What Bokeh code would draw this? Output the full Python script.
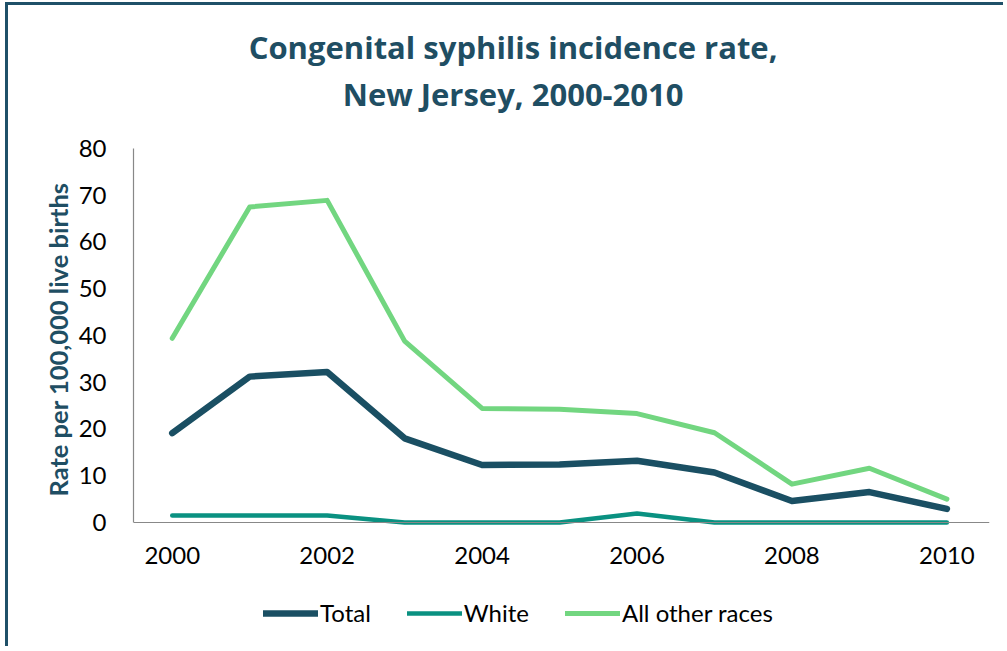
from bokeh.plotting import figure
from bokeh.models import Label, Legend, LegendItem, FixedTicker, Range1d
from bokeh.embed import file_html
from bokeh.resources import INLINE

# ---- data ----
years = [2000, 2001, 2002, 2003, 2004, 2005, 2006, 2007, 2008, 2009, 2010]
total = [19.1, 31.2, 32.2, 18.0, 12.3, 12.4, 13.2, 10.7, 4.6, 6.5, 2.9]
white = [1.5, 1.5, 1.5, 0.0, 0.0, 0.0, 1.9, 0.0, 0.0, 0.0, 0.0]
other = [39.4, 67.5, 68.9, 38.8, 24.4, 24.2, 23.3, 19.2, 8.2, 11.6, 5.0]
series_names = ["Total", "White", "All other races"]
x_ticks = [2000, 2002, 2004, 2006, 2008, 2010]
y_ticks = [0, 10, 20, 30, 40, 50, 60, 70, 80]
title_lines = ["Congenital syphilis incidence rate,", "New Jersey, 2000-2010"]
y_label = "Rate per 100,000 live births"

# ---- style ----
C_TITLE = "#1f4e63"
C_TOTAL = "#1a4f63"
C_WHITE = "#0a9181"
C_OTHER = "#72d680"
C_AXIS = "#888888"
C_BORDER = "#1f5068"
FONT = "Lato"

# The frame covers most of the canvas vertically (room for title and legend);
# the y axis is bounded to 0..80 and the x axis is pinned at y = 0.
p = figure(width=998, height=644, output_backend="svg", toolbar_location=None,
           title=None,
           x_range=Range1d(1999.5, 2010.55), y_range=Range1d(-27.17, 105.45),
           min_border_left=125, min_border_top=24, min_border_right=17,
           min_border_bottom=0,
           styles={"margin-left": "5px", "margin-top": "2px",
                   "border-top": "3px solid " + C_BORDER,
                   "border-left": "3px solid " + C_BORDER})
p.outline_line_color = None
p.xgrid.grid_line_color = None
p.ygrid.grid_line_color = None
p.background_fill_color = "white"
p.border_fill_color = "white"

r_total = p.line(years, total, line_color=C_TOTAL, line_width=6.5,
                 line_cap="round", line_join="round")
r_white = p.line(years, white, line_color=C_WHITE, line_width=4.5,
                 line_cap="round", line_join="round")
r_other = p.line(years, other, line_color=C_OTHER, line_width=5,
                 line_cap="round", line_join="round")

for ax in (p.xaxis[0], p.yaxis[0]):
    ax.axis_line_color = C_AXIS
    ax.axis_line_width = 1.2
    ax.major_tick_line_color = None
    ax.minor_tick_line_color = None
    ax.major_tick_out = 0
    ax.major_tick_in = 0
    ax.major_label_text_font = FONT
    ax.major_label_text_font_size = "24px"
    ax.major_label_text_color = "black"

p.xaxis.ticker = FixedTicker(ticks=x_ticks)
p.xaxis.fixed_location = 0
p.xaxis.major_label_standoff = 25
p.yaxis.ticker = FixedTicker(ticks=y_ticks)
p.yaxis.bounds = (y_ticks[0], y_ticks[-1])
p.yaxis.major_label_standoff = 27

p.yaxis.axis_label = y_label
p.yaxis.axis_label_text_font = FONT
p.yaxis.axis_label_text_font_style = "bold"
p.yaxis.axis_label_text_font_size = "25.5px"
p.yaxis.axis_label_text_color = C_TITLE
p.yaxis.axis_label_standoff = 3

# title: two centred lines in the empty space above the data
for txt, yy in zip(title_lines, [101.8, 91.55]):
    p.add_layout(Label(x=2004.4, y=yy, text=txt, text_align="center",
                       text_baseline="alphabetic", text_font="Open Sans",
                       text_font_style="bold", text_font_size="31px",
                       text_color=C_TITLE))

legend = Legend(items=[LegendItem(label=series_names[0], renderers=[r_total]),
                       LegendItem(label=series_names[1], renderers=[r_white]),
                       LegendItem(label=series_names[2], renderers=[r_other])],
                orientation="horizontal", location=(130, 22),
                padding=0, margin=0, spacing=36, label_standoff=2,
                glyph_width=55, glyph_height=20,
                border_line_color=None, background_fill_alpha=0,
                label_text_font=FONT, label_text_font_size="24px",
                label_text_color="black")
p.add_layout(legend, "center")

open("out.html", "w").write(file_html(p, INLINE))
